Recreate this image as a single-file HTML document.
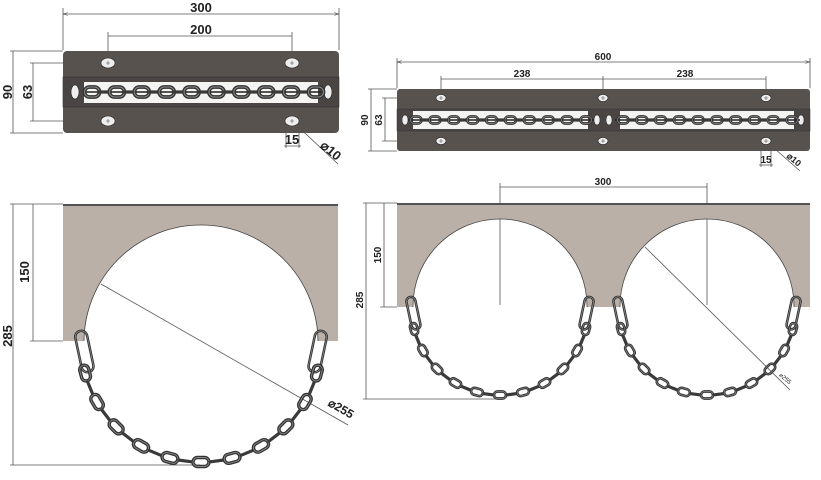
<!DOCTYPE html>
<html><head><meta charset="utf-8"><style>
html,body{margin:0;padding:0;background:#fff;}
svg{display:block;font-family:"Liberation Sans",sans-serif;font-weight:bold;}
</style></head><body>
<svg id="s" width="821" height="480" viewBox="0 0 821 480" xmlns="http://www.w3.org/2000/svg">
<defs>
<marker id="a" viewBox="0 0 10 10" refX="10" refY="5" markerWidth="6" markerHeight="6" orient="auto-start-reverse"><path d="M0,2 L10,5 L0,8" fill="none" stroke="#444" stroke-width="1"/></marker>
<mask id="m1"><rect x="0" y="0" width="821" height="480" fill="#fff"/><circle cx="201" cy="342" r="117" fill="#000"/></mask>
<mask id="m2"><rect x="0" y="0" width="821" height="480" fill="#fff"/><circle cx="500" cy="306" r="87" fill="#000"/><circle cx="707" cy="306" r="87" fill="#000"/></mask>
<clipPath id="c1"><rect x="63" y="204" width="275" height="137"/></clipPath>
<clipPath id="c2"><rect x="397" y="203" width="413" height="104"/></clipPath>
</defs>
<g stroke="#555" stroke-width="0.8" fill="none">
<line x1="63" y1="8" x2="63" y2="50"/><line x1="339" y1="8" x2="339" y2="50"/>
<line x1="63" y1="14" x2="339" y2="14" marker-start="url(#a)" marker-end="url(#a)"/>
<line x1="108" y1="32" x2="108" y2="62"/><line x1="292" y1="32" x2="292" y2="62"/>
<line x1="108" y1="36" x2="292" y2="36"/>
<line x1="10" y1="51" x2="63" y2="51"/><line x1="10" y1="133" x2="63" y2="133"/>
<line x1="13" y1="51" x2="13" y2="133"/>
<line x1="30" y1="63" x2="108" y2="63"/><line x1="30" y1="121" x2="108" y2="121"/>
<line x1="33" y1="63" x2="33" y2="121"/>
<line x1="286" y1="121" x2="286" y2="148"/><line x1="299" y1="121" x2="299" y2="148"/>
<line x1="284" y1="146" x2="301" y2="146"/>
<line x1="292" y1="121" x2="338" y2="164"/>
<line x1="10" y1="204" x2="63" y2="204"/><line x1="30" y1="341" x2="63" y2="341"/>
<line x1="10" y1="465" x2="200" y2="465"/>
<line x1="13" y1="204" x2="13" y2="465"/>
<line x1="33" y1="204" x2="33" y2="341"/>
<line x1="101" y1="284" x2="348" y2="425"/>
<line x1="397" y1="58" x2="397" y2="88"/><line x1="810" y1="58" x2="810" y2="88"/>
<line x1="397" y1="62" x2="810" y2="62" marker-start="url(#a)" marker-end="url(#a)"/>
<line x1="441" y1="76" x2="441" y2="97"/><line x1="603" y1="76" x2="603" y2="97"/><line x1="766" y1="76" x2="766" y2="97"/>
<line x1="441" y1="79" x2="766" y2="79"/>
<line x1="368" y1="89" x2="397" y2="89"/><line x1="368" y1="151" x2="397" y2="151"/>
<line x1="371" y1="89" x2="371" y2="151"/>
<line x1="382" y1="98" x2="441" y2="98"/><line x1="382" y1="141" x2="441" y2="141"/>
<line x1="385" y1="98" x2="385" y2="141"/>
<line x1="761" y1="141" x2="761" y2="167"/><line x1="771" y1="141" x2="771" y2="167"/>
<line x1="759" y1="165" x2="773" y2="165"/>
<line x1="766" y1="141" x2="800" y2="171"/>
<line x1="500" y1="183" x2="500" y2="305"/><line x1="707" y1="183" x2="707" y2="305"/>
<line x1="500" y1="187" x2="707" y2="187"/>
<line x1="363" y1="203" x2="397" y2="203"/><line x1="380" y1="307" x2="397" y2="307"/>
<line x1="363" y1="399" x2="500" y2="399"/>
<line x1="366" y1="203" x2="366" y2="399"/>
<line x1="384" y1="203" x2="384" y2="307"/>
<line x1="645" y1="247" x2="790" y2="390"/>
</g>
<g fill="#222" font-size="13" text-anchor="middle">
<text x="201" y="12">300</text><text x="201" y="34">200</text>
<text transform="translate(12,92) rotate(-90)">90</text>
<text transform="translate(32,92) rotate(-90)">63</text>
<text x="292" y="144">15</text>
<text transform="translate(328,154) rotate(40)">⌀10</text>
<text transform="translate(29,272) rotate(-90)">150</text>
<text transform="translate(12,336) rotate(-90)">285</text>
<text transform="translate(339,412) rotate(30)" font-size="12">⌀255</text>
</g>
<g fill="#222" font-size="10" text-anchor="middle">
<text x="603" y="60">600</text><text x="522" y="77">238</text><text x="685" y="77">238</text>
<text transform="translate(368,120) rotate(-90)">90</text>
<text transform="translate(382,120) rotate(-90)">63</text>
<text x="766" y="163">15</text>
<text transform="translate(792,162) rotate(40)" font-size="9">⌀10</text>
<text x="603" y="185">300</text>
<text transform="translate(381,255) rotate(-90)">150</text>
<text transform="translate(363,300) rotate(-90)">285</text>
<text transform="translate(784,380) rotate(40)" font-size="6" font-weight="normal">⌀255</text>
</g>
<rect x="63" y="51" width="276" height="82" rx="4" fill="#58524f"/>
<rect x="63" y="77" width="276" height="30" fill="#4a4542" stroke="#333" stroke-width="0.6"/>
<rect x="84" y="82" width="234" height="21" fill="#f4f4f2"/>
<rect x="397" y="89" width="413" height="62" rx="3" fill="#58524f"/>
<rect x="397" y="109" width="413" height="22" fill="#4a4542" stroke="#333" stroke-width="0.5"/>
<rect x="413" y="111" width="175" height="18" fill="#f4f4f2"/>
<rect x="620" y="111" width="174" height="18" fill="#f4f4f2"/>
<rect x="63" y="204" width="275" height="137" fill="#bab0a8" mask="url(#m1)"/>
<circle cx="201" cy="342" r="117" fill="none" stroke="#444" stroke-width="0.8" clip-path="url(#c1)"/>
<line x1="63" y1="205" x2="338" y2="205" stroke="#333" stroke-width="1.5"/>
<rect x="397" y="203" width="413" height="104" fill="#bab0a8" mask="url(#m2)"/>
<g clip-path="url(#c2)" fill="none" stroke="#444" stroke-width="0.8"><circle cx="500" cy="306" r="87"/><circle cx="707" cy="306" r="87"/></g>
<line x1="397" y1="204" x2="810" y2="204" stroke="#333" stroke-width="1.5"/>
<g id="ch"></g>
</svg>
<script>
var NS="http://www.w3.org/2000/svg",g=document.getElementById("ch");
function el(n,a){var e=document.createElementNS(NS,n);for(var k in a)e.setAttribute(k,a[k]);g.appendChild(e);return e;}
function link(x,y,ang,L,W,face){
 var t="translate("+x+","+y+") rotate("+ang+")";
 if(face){el("rect",{x:-L/2,y:-W/2,width:L,height:W,rx:W/2,fill:"none",stroke:"#333","stroke-width":W*0.38,transform:t});
 el("rect",{x:-L/2,y:-W/2,width:L,height:W,rx:W/2,fill:"none",stroke:"#8a8a8a","stroke-width":W*0.1,transform:t});}
 else el("rect",{x:-L/2,y:-1.6,width:L,height:3.2,rx:1.6,fill:"#3a3a3a",transform:t});
}
function hole(x,y,w,h){el("ellipse",{cx:x,cy:y,rx:w,ry:h,fill:"#eee",stroke:"#222","stroke-width":0.6});
 el("path",{d:"M"+(x-2)+","+y+"h4M"+x+","+(y-2)+"v4",stroke:"#555","stroke-width":0.6});}
[[108,63],[292,63],[108,121],[292,121]].forEach(function(p){hole(p[0],p[1],7,5);});
[[441,98],[603,98],[766,98],[441,141],[603,141],[766,141]].forEach(function(p){hole(p[0],p[1],5,3.5);});
el("ellipse",{cx:75,cy:92,rx:4,ry:7,fill:"#eee",stroke:"#222","stroke-width":0.6});
el("ellipse",{cx:328,cy:92,rx:4,ry:7,fill:"#eee",stroke:"#222","stroke-width":0.6});
[[405,120],[597,120],[609,120],[801,120]].forEach(function(p){el("ellipse",{cx:p[0],cy:p[1],rx:3,ry:5,fill:"#eee",stroke:"#222","stroke-width":0.5});});
function straight(x1,x2,y,L,W,n){
 el("line",{x1:x1-8,y1:y,x2:x2+8,y2:y,stroke:"#222","stroke-width":1.5});
 for(var i=0;i<=n;i++){var x=x1+(x2-x1)*i/n;link(x,y,0,L,W,i%2==0);}
}
straight(92,316,92,15,10,18);
straight(416,586,120,11,7,18);
straight(623,792,120,11,7,18);
function arc(cx,cy,r,a1,a2,n,L,W){
 for(var i=0;i<=n;i++){var a=(a1+(a2-a1)*i/n)*Math.PI/180;
  var x=cx+r*Math.cos(a),y=cy+r*Math.sin(a);
  link(x,y,a*180/Math.PI+90,L,W,i%2==0);}
}
function carab(x,y,ang,L,W){
 var t="translate("+x+","+y+") rotate("+ang+")";
 el("rect",{x:-W/2,y:0,width:W,height:L,rx:W/2,fill:"none",stroke:"#3a3a3a","stroke-width":2.6,transform:t});
 el("rect",{x:-W/2,y:0,width:W,height:L,rx:W/2,fill:"none",stroke:"#aaa","stroke-width":0.5,transform:t});
}
carab(80,331,-12,42,12);carab(322,331,12,42,12);
arc(201,342,120,165,15,20,16,9);
carab(410,297,-12,33,9);carab(590,297,12,33,9);
carab(617,297,-12,33,9);carab(797,297,12,33,9);
arc(500,306,89,165,15,20,12,7);
arc(707,306,89,165,15,20,12,7);
</script>
</body></html>
